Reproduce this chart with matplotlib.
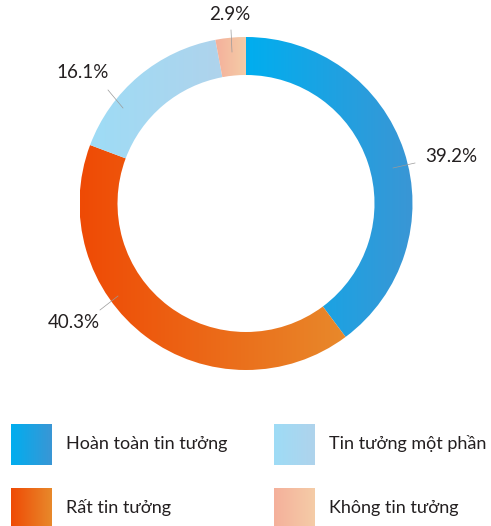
import matplotlib.pyplot as plt
import numpy as np
from matplotlib.colors import LinearSegmentedColormap
from matplotlib.patches import Rectangle

plt.rcParams['font.family'] = ['Lato', 'DejaVu Sans']

# Survey shares
labels = ["Hoàn toàn tin tưởng", "Rất tin tưởng", "Tin tưởng một phần", "Không tin tưởng"]
shares = [39.2, 40.3, 16.1, 2.9]
pct_text = ["39.2%", "40.3%", "16.1%", "2.9%"]

# left -> right gradient stops for each slice
grad_stops = [
    ("#00aeef", "#3a96d5"),
    ("#ef4a05", "#e8892b"),
    ("#9edcf6", "#afd3ec"),
    ("#f4b09b", "#f5cca7"),
]

W, H = 491, 526
fig = plt.figure(figsize=(W / 100, H / 100), dpi=100)
ax = fig.add_axes([0, 0, 1, 1])

cx, cy = 246, H - 203.5
r_out, ring = 166.5, 38

wedges, _ = ax.pie(shares, startangle=90, counterclock=False, radius=r_out,
                   center=(cx, cy), wedgeprops=dict(width=ring, linewidth=0))

ramp = np.linspace(0, 1, 256).reshape(1, -1)
for w, (c0, c1) in zip(wedges, grad_stops):
    cmap = LinearSegmentedColormap.from_list("g", [c0, c1])
    bb = w.get_path().get_extents()
    w.set_facecolor("none")
    im = ax.imshow(ramp, cmap=cmap, aspect="auto", interpolation="bilinear",
                   extent=[bb.x0, bb.x1, bb.y0, bb.y1], zorder=1)
    im.set_clip_path(w)

# percentage labels with thin leader lines (pixel positions, y from top)
label_pos = [(451, 156), (74, 322), (83, 73), (230, 15)]
leader = [((393, 168), (415, 163)), ((118, 296), (100, 310)),
          ((123, 108), (108, 90)), ((232, 52), (231, 30))]
for txt, (lx, ly), ((x0, y0), (x1, y1)) in zip(pct_text, label_pos, leader):
    ax.text(lx, H - ly, txt, ha="center", va="center", fontsize=13.5, color="#231f20")
    ax.plot([x0, x1], [H - y0, H - y1], color="#9a9a9a", lw=0.5, zorder=3)

# legend with gradient swatches
sw = 41
legend_pos = [(11, 424), (11, 488), (274, 424), (274, 488)]
for (sx, sy), name, (c0, c1) in zip(legend_pos, labels, grad_stops):
    cmap = LinearSegmentedColormap.from_list("g", [c0, c1])
    rect = Rectangle((sx, H - sy - sw), sw, sw, facecolor="none", linewidth=0)
    ax.add_patch(rect)
    im = ax.imshow(ramp, cmap=cmap, aspect="auto", interpolation="bilinear",
                   extent=[sx, sx + sw, H - sy - sw, H - sy], zorder=1)
    im.set_clip_path(rect)
    ax.text(sx + 55, H - sy - 20, name, ha="left", va="center",
            fontsize=13, color="#231f20")

ax.set_xlim(0, W)
ax.set_ylim(0, H)
ax.set_aspect("auto")
ax.axis("off")

fig.savefig("out.png", dpi=100)
